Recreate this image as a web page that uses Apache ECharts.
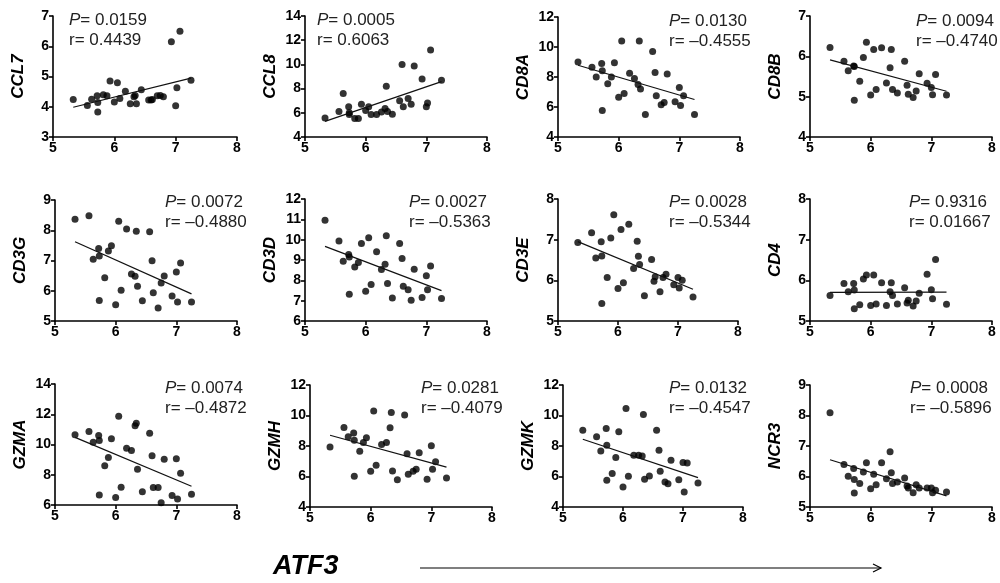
<!DOCTYPE html>
<html>
<head>
  <meta charset="utf-8">
  <script src="https://cdn.jsdelivr.net/npm/echarts@6/dist/echarts.min.js"></script>
</head>
<body style="margin:0">
  <div id="main" style="width: 1000px;height:583px;"></div>
  <script type="text/javascript">
    // ATF3 expression, one value per sample (shared x of all panels)
    var atf3 = [5.33, 5.56, 5.63, 5.72, 5.73, 5.73, 5.82, 5.88, 5.93, 6.00, 6.05, 6.09, 6.18, 6.26, 6.32, 6.34, 6.36, 6.44, 6.56, 6.60, 6.62, 6.70, 6.75, 6.80, 6.93, 7.00, 7.02, 7.07, 7.25];

    var ccl7 = [4.24, 4.04, 4.25, 4.36, 4.14, 3.83, 4.40, 4.36, 4.85, 4.16, 4.79, 4.27, 4.51, 4.10, 4.33, 4.37, 4.10, 4.56, 4.22, 4.22, 4.24, 4.36, 4.37, 4.33, 6.15, 4.03, 4.63, 6.50, 4.88];
    var ccl8 = [5.57, 6.1, 7.6, 6.5, 6.0, 5.85, 5.52, 5.52, 6.7, 6.2, 6.5, 5.85, 5.85, 6.07, 6.35, 8.2, 6.1, 5.88, 7.0, 10.0, 6.5, 7.18, 6.7, 9.86, 8.8, 6.5, 6.8, 11.2, 8.7];
    var cd8a = [9.0, 8.65, 8.0, 8.9, 8.42, 5.77, 7.55, 8.0, 8.95, 6.65, 10.4, 6.9, 8.25, 7.9, 7.5, 10.4, 7.2, 5.5, 9.7, 8.3, 6.75, 6.15, 6.3, 8.2, 6.35, 7.3, 6.1, 6.75, 5.5];
    var cd8b = [6.22, 5.88, 5.64, 5.76, 5.75, 4.91, 5.38, 5.97, 6.35, 5.04, 6.17, 5.18, 6.21, 5.34, 5.72, 6.17, 5.18, 5.09, 5.88, 5.28, 5.06, 4.98, 5.14, 5.57, 5.33, 5.23, 5.05, 5.55, 5.04];
    var cd3g = [8.36, 8.48, 7.04, 7.40, 7.15, 5.68, 6.43, 7.31, 7.49, 5.54, 8.30, 6.02, 8.04, 6.55, 6.48, 7.97, 6.15, 5.67, 7.95, 6.99, 5.93, 5.43, 6.26, 6.49, 5.83, 6.62, 5.63, 6.92, 5.63];
    var cd3d = [10.96, 9.94, 8.94, 9.27, 9.15, 7.31, 8.66, 8.88, 9.81, 7.46, 10.09, 7.79, 9.4, 8.53, 8.79, 10.19, 7.84, 7.13, 9.81, 9.07, 7.71, 7.54, 7.02, 8.55, 7.16, 8.22, 7.54, 8.71, 7.11];
    var cd3e = [6.93, 7.17, 6.55, 6.95, 6.60, 5.43, 6.07, 7.04, 7.61, 5.80, 7.25, 5.94, 7.38, 6.29, 6.96, 6.59, 6.39, 5.62, 6.51, 5.98, 6.09, 5.72, 6.07, 6.15, 5.89, 6.07, 5.81, 6.00, 5.59];
    var cd4 = [5.63, 5.92, 5.72, 5.92, 5.76, 5.30, 5.40, 6.03, 6.13, 5.38, 6.13, 5.42, 5.94, 5.38, 5.72, 5.94, 5.63, 5.42, 5.82, 5.44, 5.51, 5.37, 5.49, 5.68, 6.15, 5.77, 5.55, 6.51, 5.41];
    var gzma = [10.64, 10.86, 10.15, 10.6, 10.27, 6.66, 8.59, 9.14, 10.38, 6.49, 11.86, 7.17, 9.76, 9.6, 11.24, 11.41, 8.36, 6.88, 10.75, 9.25, 7.15, 7.15, 6.15, 9.03, 6.62, 9.05, 6.4, 8.1, 6.71];
    var gzmh = [7.94, 9.21, 8.6, 8.86, 8.38, 6.01, 7.66, 8.23, 8.54, 6.34, 10.29, 6.74, 8.1, 8.23, 9.19, 10.2, 6.36, 5.79, 10.03, 7.5, 6.14, 6.34, 6.47, 7.55, 5.82, 8.01, 6.47, 6.96, 5.9];
    var gzmk = [9.04, 8.6, 7.68, 9.15, 8.05, 5.75, 6.19, 7.24, 8.93, 5.31, 10.46, 6.01, 7.39, 7.39, 7.35, 10.07, 5.82, 6.04, 9.04, 7.72, 6.34, 5.64, 5.53, 7.07, 5.79, 6.91, 4.98, 6.89, 5.57];
    var ncr3 = [8.09, 6.39, 6.01, 6.26, 5.9, 5.46, 5.77, 6.15, 6.45, 5.6, 6.07, 5.73, 6.45, 5.93, 6.81, 6.12, 5.77, 5.82, 5.95, 5.69, 5.62, 5.47, 5.73, 5.62, 5.62, 5.62, 5.47, 5.55, 5.49];

    var genes = ['CCL7', 'CCL8', 'CD8A', 'CD8B', 'CD3G', 'CD3D', 'CD3E', 'CD4', 'GZMA', 'GZMH', 'GZMK', 'NCR3'];
    var values = [ccl7, ccl8, cd8a, cd8b, cd3g, cd3d, cd3e, cd4, gzma, gzmh, gzmk, ncr3];
    var pValues = ['0.0159', '0.0005', '0.0130', '0.0094', '0.0072', '0.0027', '0.0028', '0.9316', '0.0074', '0.0281', '0.0132', '0.0008'];
    var rValues = ['0.4439', '0.6063', '–0.4555', '–0.4740', '–0.4880', '–0.5363', '–0.5344', '0.01667', '–0.4872', '–0.4079', '–0.4547', '–0.5896'];

    // y axis ticks
    var yMin = [3, 4, 4, 4, 5, 6, 5, 5, 6, 4, 4, 5];
    var yMax = [7, 14, 12, 7, 9, 12, 8, 8, 14, 12, 12, 9];
    var yStep = [1, 2, 2, 1, 1, 1, 1, 1, 2, 2, 2, 1];
    var xMin = 5, xMax = 8, xStep = 1;

    // layout: grid boxes [left, top, width, height] and stat text positions
    var boxes = [
      [53, 16, 184, 121], [305, 16, 182, 121], [558, 17, 182, 120], [810, 16, 182, 121],
      [55, 200, 182, 121], [305, 199, 182, 122], [558, 199, 180, 122], [810, 199, 182, 122],
      [55, 384, 182, 121], [310, 385, 182, 122], [563, 385, 180, 122], [810, 385, 182, 122]
    ];
    var textPos = [
      [69, 10], [317, 10], [669, 11], [916, 11],
      [165, 192], [409, 192], [669, 192], [909, 192],
      [165, 378], [421, 378], [669, 378], [910, 378]
    ];

    var FONT = '"Liberation Sans", Arial, sans-serif';

    // least squares line over the x range
    function fitLine(xs, ys) {
      var n = xs.length, mx = 0, my = 0, sxy = 0, sxx = 0;
      for (var i = 0; i < n; i++) { mx += xs[i]; my += ys[i]; }
      mx /= n; my /= n;
      for (var i = 0; i < n; i++) {
        sxy += (xs[i] - mx) * (ys[i] - my);
        sxx += (xs[i] - mx) * (xs[i] - mx);
      }
      var b = sxy / sxx, a = my - b * mx;
      var x0 = Math.min.apply(null, xs), x1 = Math.max.apply(null, xs);
      return [[x0, a + b * x0], [x1, a + b * x1]];
    }

    var grids = [], xAxes = [], yAxes = [], series = [], titles = [];
    var axisLine = { lineStyle: { color: '#000', width: 1.6 } };
    var axisTick = { length: 4, lineStyle: { color: '#000', width: 1.6 } };
    var axisLabel = { color: '#000', fontWeight: 'bold', fontSize: 14, fontFamily: FONT, margin: 4 };

    for (var k = 0; k < genes.length; k++) {
      var b = boxes[k];
      grids.push({ left: b[0], top: b[1], width: b[2], height: b[3] });
      xAxes.push({
        gridIndex: k, type: 'value', min: xMin, max: xMax, interval: xStep,
        axisLine: axisLine, axisTick: axisTick, axisLabel: axisLabel, splitLine: { show: false }
      });
      yAxes.push({
        gridIndex: k, type: 'value', min: yMin[k], max: yMax[k], interval: yStep[k],
        name: genes[k], nameLocation: 'middle', nameGap: 26,
        nameTextStyle: { color: '#000', fontWeight: 'bold', fontStyle: 'italic', fontSize: 17, fontFamily: FONT },
        axisLine: axisLine, axisTick: axisTick, axisLabel: axisLabel, splitLine: { show: false }
      });
      var pts = atf3.map(function (x, i) { return [x, values[k][i]]; });
      series.push({
        type: 'scatter', xAxisIndex: k, yAxisIndex: k, data: pts,
        symbolSize: 7, itemStyle: { color: '#000' }, silent: true
      });
      series.push({
        type: 'line', xAxisIndex: k, yAxisIndex: k, data: fitLine(atf3, values[k]),
        symbol: 'none', lineStyle: { color: '#111', width: 1.2 }, silent: true
      });
      titles.push({
        left: textPos[k][0], top: textPos[k][1], padding: 0,
        text: '{p|P}= ' + pValues[k] + '\nr= ' + rValues[k],
        textStyle: {
          color: '#222', fontSize: 17, fontWeight: 'normal', fontFamily: FONT, lineHeight: 20,
          rich: { p: { fontStyle: 'italic', color: '#222', fontSize: 17, fontFamily: FONT, lineHeight: 20 } }
        }
      });
    }

    var chart = echarts.init(document.getElementById('main'));
    chart.setOption({
      animation: false,
      backgroundColor: '#fff',
      title: titles,
      grid: grids,
      xAxis: xAxes,
      yAxis: yAxes,
      series: series,
      graphic: [
        {
          type: 'text', left: 273, top: 553,
          style: { text: 'ATF3', fill: '#000', font: 'italic bold 27px "Liberation Sans", Arial, sans-serif' }
        },
        {
          type: 'line', shape: { x1: 420, y1: 568, x2: 881, y2: 568 },
          style: { stroke: '#000', lineWidth: 1.2 }
        },
        {
          type: 'polyline', shape: { points: [[873, 564], [881, 568], [873, 572]] },
          style: { stroke: '#000', fill: null, lineWidth: 1.2 }
        }
      ]
    });
  </script>
</body>
</html>
